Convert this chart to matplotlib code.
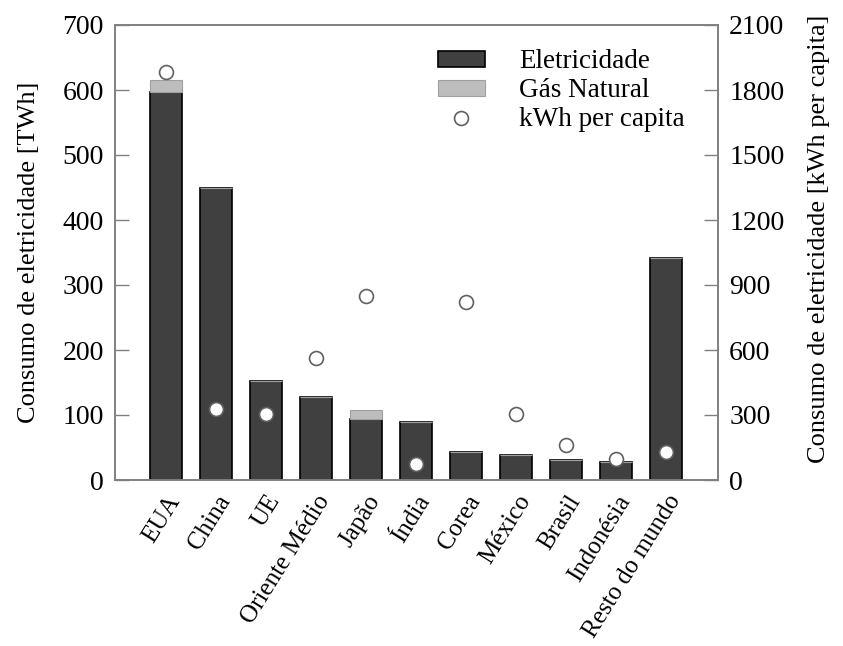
import numpy as np
import matplotlib
matplotlib.use("Agg")
import matplotlib.pyplot as plt

plt.rcParams['font.family'] = ['Liberation Serif', 'DejaVu Serif']

paises = ['EUA', 'China', 'UE', 'Oriente Médio', 'Japão', 'Índia', 'Corea',
          'México', 'Brasil', 'Indonésia', 'Resto do mundo']
eletricidade = [597, 449, 152, 128, 94, 89, 43, 38, 31, 27, 342]
gas_natural = [18, 0, 0, 0, 13, 0, 0, 0, 0, 0, 0]
kwh_per_capita = [1883, 328, 305, 563, 849, 74, 821, 305, 162, 97, 129]

fig = plt.figure(figsize=(8.43, 6.46), dpi=100)
ax = fig.add_axes([115 / 843, 1 - 480 / 646, 603 / 843, 455 / 646])
ax2 = ax.twinx()

x = np.arange(len(paises))
ax.bar(x, eletricidade, width=0.64, color='#404040', edgecolor='black',
       linewidth=1.2, label='Eletricidade', zorder=2)
ax.bar(x, gas_natural, width=0.64, bottom=eletricidade, color='#bdbdbd',
       edgecolor='#a0a0a0', linewidth=0.8, label='Gás Natural', zorder=2)
ax2.plot(x, kwh_per_capita, 'o', markersize=10, markerfacecolor='white',
         markeredgecolor='#606060', markeredgewidth=1.2, label='kWh per capita',
         zorder=3)

ax.set_xlim(-1.02, 11.04)
ax.set_ylim(0, 700)
ax2.set_ylim(0, 2100)
ax.set_yticks(range(0, 701, 100))
ax2.set_yticks(range(0, 2101, 300))
ax.set_xticks(x)
ax.set_xticklabels(paises, rotation=58, ha='right', rotation_mode='anchor')

for a in (ax, ax2):
    for s in a.spines.values():
        s.set_color('#808080')
        s.set_linewidth(1.2)
    a.tick_params(axis='y', direction='in', length=10, width=1, color='#808080',
                  labelsize=20, pad=8)
ax.tick_params(axis='x', length=0, labelsize=18, pad=8)

ax.set_ylabel('Consumo de eletricidade [TWh]', fontsize=19, labelpad=16)
ax2.set_ylabel('Consumo de eletricidade [kWh per capita]', fontsize=19)
ax2.yaxis.set_label_coords(1.15, 0.53)

h1, l1 = ax.get_legend_handles_labels()
h2, l2 = ax2.get_legend_handles_labels()
ax2.legend(h1 + h2, l1 + l2, loc='upper right', frameon=False, fontsize=19.5,
           bbox_to_anchor=(0.985, 1.0), handlelength=1.75, handleheight=0.55,
           handletextpad=1.25, labelspacing=0.15)

ax.set_zorder(ax2.get_zorder() - 1)
ax2.patch.set_visible(False)
ax.patch.set_visible(True)

fig.savefig('out.png', dpi=100)
